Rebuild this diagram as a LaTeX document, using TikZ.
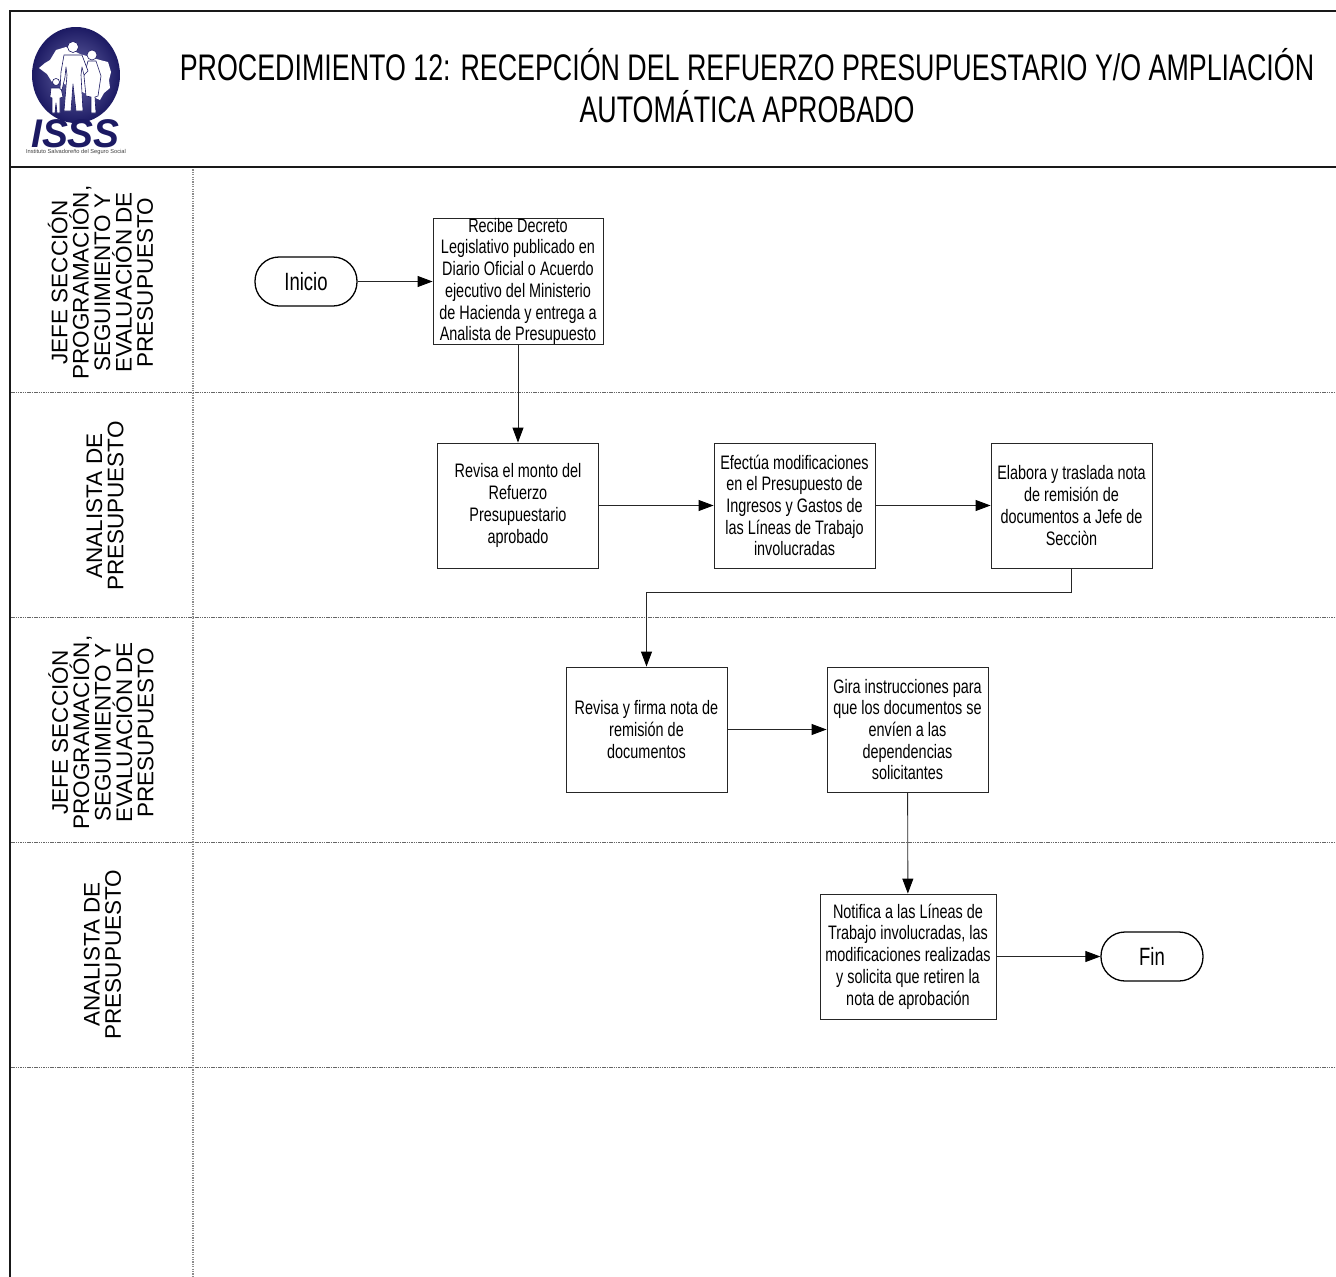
\documentclass[tikz,border=0pt]{standalone}
\usepackage{fontspec}
\setmainfont[FakeStretch=0.74]{Liberation Sans}
\newfontfamily\lanefont{Liberation Sans}
\newfontfamily\titlefont[FakeStretch=0.725]{Liberation Sans}
\newfontfamily\logofont[FakeStretch=0.97]{Liberation Sans}
\newfontfamily\logosmall{Liberation Sans}
\usetikzlibrary{arrows.meta}
\definecolor{navy}{HTML}{2B2A85}
\definecolor{deepnavy}{HTML}{1C1A63}
\tikzset{
  procbox/.style={draw=black!85,line width=0.9pt,fill=white,inner sep=0pt,align=center,
    font=\fontsize{19.5}{21.7}\selectfont,minimum height=125pt,minimum width=161pt},
  endbox/.style={draw=black,line width=1.3pt,fill=white,rounded corners=24pt,inner sep=0pt,
    minimum width=102pt,minimum height=49pt,font=\fontsize{25}{28}\selectfont},
  flow/.style={draw=black!85,line width=0.9pt,-{Triangle[length=15pt,width=11pt,color=black]}},
  lanelabel/.style={rotate=90,align=center,font=\lanefont\fontsize{22.5}{21.4}\selectfont,inner sep=0pt},
  laneline/.style={draw=black!60,line width=0.9pt,dash pattern=on 1.5pt off 0.8pt},
  vline/.style={draw=black!45,line width=1.3pt,dash pattern=on 1.2pt off 1.2pt},
  frameline/.style={draw=black!90,line width=2pt},
  figure/.style={fill=white,draw=deepnavy,line width=0.6pt,line join=round},
}
\begin{document}
\begin{tikzpicture}[x=1pt,y=-1pt]
\useasboundingbox (0,0) rectangle (1336,1277);
\fill[white] (0,0) rectangle (1336,1277);
% lanes
\foreach \yy in {392,617,842,1067} \draw[laneline] (11,\yy) -- (1336,\yy);
\draw[vline] (193,167) -- (193,1277);
% frame
\draw[frameline] (1336,11) -- (10,11) -- (10,1277);
\draw[frameline] (10,167) -- (1336,167);
% logo
\shade[inner color=navy!70!white,outer color=deepnavy] (76,75) ellipse (44 and 48);
% map
\fill[white] (39,68) -- (45,63) -- (50,60) -- (56,50) -- (66,47) -- (80,54) -- (100,60) -- (108,62) -- (111,72) -- (109,80) -- (110,88) -- (104,93) -- (100,100) -- (60,82) -- (52,82) -- (47,74) -- cycle;
% child
\node[circle,figure,minimum size=7pt,inner sep=0pt] (childhead) at (56,82) {};
\path[figure] (51,88) -- (61,88) -- (63,97) -- (60,98) -- (60,113) -- (57,113) -- (56,103) -- (55,113) -- (52,113) -- (52,98) -- (50,97) -- cycle;
% woman
\node[circle,figure,minimum size=10pt,fill=white,inner sep=0pt] (womanhead) at (92,55) {};
\path[figure] (88,61) -- (96,61) -- (101,76) -- (98,96) -- (95,97) -- (96,113) -- (91,113) -- (91,97) -- (86,96) -- (84,76) -- cycle;
% man
\node[circle,figure,minimum size=11pt,inner sep=0pt] (manhead) at (73,47) {};
\path[figure] (64,55) -- (82,55) -- (88,71) -- (84,75) -- (82,67) -- (81,75) -- (83,111) -- (76,111) -- (73,84) -- (71,111) -- (64,111) -- (67,75) -- (66,67) -- (65,77) -- (62,90) -- (60,89) -- (61,72) -- cycle;
\node[inner sep=0pt,text height=29pt,text depth=0pt,text=deepnavy,font=\logofont\bfseries\itshape\fontsize{40}{40}\selectfont] (isss) at (75.5,132.5) {ISSS};
\node[inner sep=0pt,text height=4pt,text depth=1pt,text=black!75,font=\logosmall\fontsize{5.7}{6}\selectfont] (logotext) at (76,151.5) {Instituto Salvadoreño del Seguro Social};
% title
\node[align=center,inner sep=0pt,font=\titlefont\fontsize{37}{41.5}\selectfont] (title) at (747,85.5)
  {PROCEDIMIENTO 12: RECEPCIÓN DEL REFUERZO PRESUPUESTARIO Y/O AMPLIACIÓN\\AUTOMÁTICA APROBADO};
% lane labels
\node[lanelabel] (l1) at (100.5,282.5) {JEFE SECCIÓN\\PROGRAMACIÓN,\\SEGUIMIENTO Y\\EVALUACIÓN DE\\PRESUPUESTO};
\node[lanelabel] (l2) at (105,506) {ANALISTA DE\\PRESUPUESTO};
\node[lanelabel] (l3) at (101,732.5) {JEFE SECCIÓN\\PROGRAMACIÓN,\\SEGUIMIENTO Y\\EVALUACIÓN DE\\PRESUPUESTO};
\node[lanelabel] (l4) at (102.5,954.5) {ANALISTA DE\\PRESUPUESTO};
% nodes
\node[endbox] (inicio) at (306,281.5) {Inicio};
\node[procbox,minimum width=170pt] (a) at (518,281.5) {Recibe Decreto\\Legislativo publicado en\\Diario Oficial o Acuerdo\\ejecutivo del Ministerio\\de Hacienda y entrega a\\Analista de Presupuesto};
\node[procbox] (b) at (518,505.5) {Revisa el monto del\\Refuerzo\\Presupuestario\\aprobado};
\node[procbox] (c) at (794.5,505.5) {Efectúa modificaciones\\en el Presupuesto de\\Ingresos y Gastos de\\las Líneas de Trabajo\\involucradas};
\node[procbox] (d) at (1071.5,505.5) {Elabora y traslada nota\\de remisión de\\documentos a Jefe de\\Secciòn};
\node[procbox] (e) at (646.5,729.5) {Revisa y firma nota de\\remisión de\\documentos};
\node[procbox] (f) at (907.5,729.5) {Gira instrucciones para\\que los documentos se\\envíen a las\\dependencias\\solicitantes};
\node[procbox,minimum width=176pt] (g) at (908,956.5) {Notifica a las Líneas de\\Trabajo involucradas, las\\modificaciones realizadas\\y solicita que retiren la\\nota de aprobación};
\node[endbox] (fin) at (1152,956.5) {Fin};
% connectors
\coordinate (bend) at (646.5,592.5);
\draw[flow] (inicio) -- (a);
\draw[flow] (a) -- (b);
\draw[flow] (b) -- (c);
\draw[flow] (c) -- (d);
\draw[flow] (d.south) |- (bend) -- (e.north);
\draw[flow] (e) -- (f);
\draw[flow] (f) -- (g);
\draw[flow] (g) -- (fin);
\end{tikzpicture}
\end{document}
